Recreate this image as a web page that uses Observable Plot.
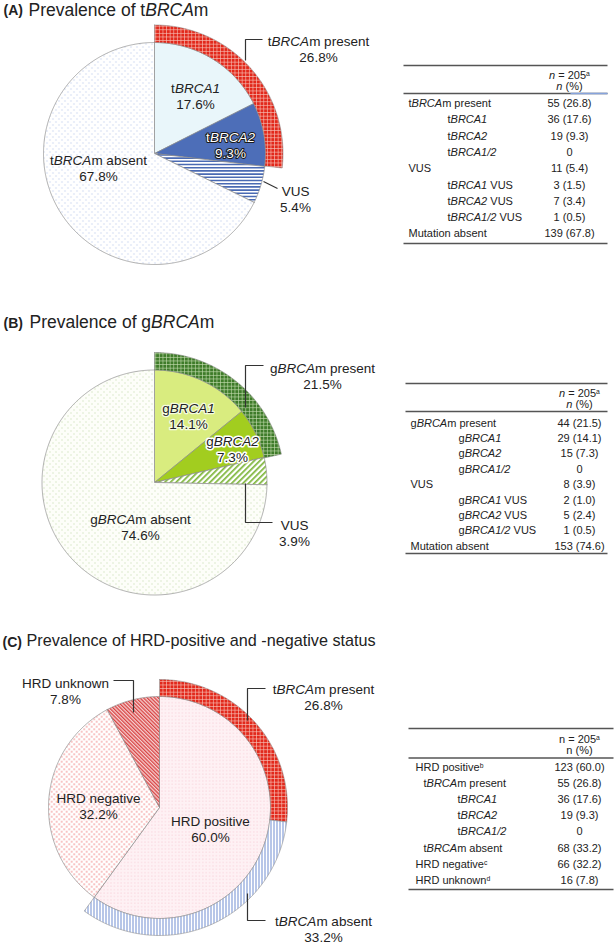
<!DOCTYPE html>
<html><head><meta charset="utf-8">
<script src="https://cdn.jsdelivr.net/npm/d3@7"></script>
<script src="https://cdn.jsdelivr.net/npm/@observablehq/plot@0.6"></script>
<style>html,body{margin:0;padding:0;background:#fff;overflow:hidden}</style>
</head><body><div id="chart"></div>
<script>
// ================= DATA =================
// Panel A – tBRCAm
const aLetter = "(A)";
const aTitle = "Prevalence of t*BRCA*m";
const aSliceLabels = ["t*BRCA1*", "t*BRCA2*", "VUS", "t*BRCA*m absent"];
const aSlicePct = [17.6, 9.3, 5.4, 67.8];
const aRingLabels = ["t*BRCA*m present"];
const aRingPct = [26.8];
const aRowLabels = ["t*BRCA*m present", "t*BRCA1*", "t*BRCA2*", "t*BRCA1/2*", "VUS", "t*BRCA1* VUS", "t*BRCA2* VUS", "t*BRCA1/2* VUS", "Mutation absent"];
const aRowN = [55, 36, 19, 0, 11, 3, 7, 1, 139];
const aRowPct = [26.8, 17.6, 9.3, null, 5.4, 1.5, 3.4, 0.5, 67.8];
const aHeader = ["*n* = 205^a", "*n* (%)"];

// Panel B – gBRCAm
const bLetter = "(B)";
const bTitle = "Prevalence of g*BRCA*m";
const bSliceLabels = ["g*BRCA1*", "g*BRCA2*", "VUS", "g*BRCA*m absent"];
const bSlicePct = [14.1, 7.3, 3.9, 74.6];
const bRingLabels = ["g*BRCA*m present"];
const bRingPct = [21.5];
const bRowLabels = ["g*BRCA*m present", "g*BRCA1*", "g*BRCA2*", "g*BRCA1/2*", "VUS", "g*BRCA1* VUS", "g*BRCA2* VUS", "g*BRCA1/2* VUS", "Mutation absent"];
const bRowN = [44, 29, 15, 0, 8, 2, 5, 1, 153];
const bRowPct = [21.5, 14.1, 7.3, null, 3.9, 1.0, 2.4, 0.5, 74.6];
const bHeader = ["*n* = 205^a", "*n* (%)"];

// Panel C – HRD status
const cLetter = "(C)";
const cTitle = "Prevalence of HRD-positive and -negative status";
const cSliceLabels = ["HRD positive", "HRD negative", "HRD unknown"];
const cSlicePct = [60.0, 32.2, 7.8];
const cRingLabels = ["t*BRCA*m present", "t*BRCA*m absent"];
const cRingPct = [26.8, 33.2];
const cRowLabels = ["HRD positive^b", "t*BRCA*m present", "t*BRCA1*", "t*BRCA2*", "t*BRCA1/2*", "t*BRCA*m absent", "HRD negative^c", "HRD unknown^d"];
const cRowN = [123, 55, 36, 19, 0, 68, 66, 16];
const cRowPct = [60.0, 26.8, 17.6, 9.3, null, 33.2, 32.2, 7.8];
const cHeader = ["n = 205^a", "n (%)"];

// ================= LAYOUT / STYLE =================
const W = 616, H = 946;
const INK = "#222";
const layouts = [
  { letter: aLetter, title: aTitle, sliceLabels: aSliceLabels, slicePct: aSlicePct, ringLabels: aRingLabels, ringPct: aRingPct,
    rowLabels: aRowLabels, rowN: aRowN, rowPct: aRowPct, header: aHeader,
    cx: 154, cy: 153, r: 111, ringR: 128.5,
    titleY: 9.4, letterX: 3, titleX: 28, titleSize: 17.5,
    sliceFills: ["#e9f6fa", "#4d6eb8", "url(#blueHoriz)", "url(#blueDots)"],
    ringFills: ["url(#redGrid)"],
    inside: [
      {i: 0, dx: 41, dy: -58, fill: INK},
      {i: 1, dx: 76, dy: -9, fill: "#fff", stroke: "#1a1a1a", sw: 2},
      {i: 3, dx: -56, dy: 14, fill: INK}
    ],
    outside: [
      {ring: true, i: 0, dx: 164, dy: -105, leader: [[91, -93], [91, -114], [108, -114]]},
      {ring: false, i: 2, dx: 141, dy: 45, leader: [[109, 28], [123, 35]]}
    ],
    table: {x0: 403, x1: 607, labelX: [408, 447], indent: [0, 1, 1, 1, 0, 1, 1, 1, 0], valX: 569,
            yTop: 65, yH: [75, 86], yHL: 93, y0: 103, step: 16.3, yBot: 243, accent: 570}
  },
  { letter: bLetter, title: bTitle, sliceLabels: bSliceLabels, slicePct: bSlicePct, ringLabels: bRingLabels, ringPct: bRingPct,
    rowLabels: bRowLabels, rowN: bRowN, rowPct: bRowPct, header: bHeader,
    cx: 154, cy: 482, r: 112.5, ringR: 130,
    titleY: 321.7, letterX: 3, titleX: 29, titleSize: 17.5,
    sliceFills: ["#d9ec7f", "#a2cd1f", "url(#greenDiag)", "url(#greenDots)"],
    ringFills: ["url(#greenGrid)"],
    inside: [
      {i: 0, dx: 34, dy: -67, fill: INK, stroke: "#f4fbe0", sw: 2.5},
      {i: 1, dx: 78, dy: -34, fill: INK, stroke: "#fff", sw: 3},
      {i: 3, dx: -14, dy: 44, fill: INK}
    ],
    outside: [
      {ring: true, i: 0, dx: 168, dy: -107, leader: [[91, -75], [91, -117], [109, -117]]},
      {ring: false, i: 2, dx: 140, dy: 50, leader: [[91, 1], [91, 40], [118, 40]]}
    ],
    table: {x0: 405, x1: 607, labelX: [410, 458], indent: [0, 1, 1, 1, 0, 1, 1, 1, 0], valX: 579,
            yTop: 383, yH: [393, 404], yHL: 411, y0: 422.5, step: 15.4, yBot: 553}
  },
  { letter: cLetter, title: cTitle, sliceLabels: cSliceLabels, slicePct: cSlicePct, ringLabels: cRingLabels, ringPct: cRingPct,
    rowLabels: cRowLabels, rowN: cRowN, rowPct: cRowPct, header: cHeader,
    cx: 159, cy: 807, r: 111, ringR: 128,
    titleY: 640.6, letterX: 2, titleX: 26, titleSize: 16.2,
    sliceFills: ["url(#pinkDots)", "url(#redDots)", "url(#redDiag)"],
    ringFills: ["url(#redGrid)", "url(#blueVert)"],
    inside: [
      {i: 0, dx: 51, dy: 21, fill: INK},
      {i: 1, dx: -61, dy: -2, fill: INK}
    ],
    outside: [
      {ring: false, i: 2, dx: -94, dy: -117, leader: [[-46, -127], [-26, -127], [-26, -95]]},
      {ring: true, i: 0, dx: 164, dy: -111, leader: [[106, -119], [88, -119], [88, -87]]},
      {ring: true, i: 1, dx: 164, dy: 121, leader: [[88, 86], [88, 113], [106, 113]]}
    ],
    table: {x0: 408, x1: 613, labelX: [415, 423, 457], indent: [0, 1, 2, 2, 2, 1, 0, 0], valX: 579,
            yTop: 728, yH: [739, 750], yHL: 757.5, y0: 767, step: 16.1, yBot: 889}
  }
];

// ================= HELPERS =================
const NS = "http://www.w3.org/2000/svg";
const cell = (n, p) => p == null ? String(n) : `${n} (${p.toFixed(1)})`;
const pctText = v => v.toFixed(1) + "%";

function arcPts(cx, cy, r0, r1, a0, a1) {
  const n = Math.max(2, Math.ceil((a1 - a0) / (Math.PI / 360)));
  const pts = [];
  for (let k = 0; k <= n; k++) {
    const a = a0 + (a1 - a0) * k / n;
    pts.push({x: cx + r1 * Math.sin(a), y: cy - r1 * Math.cos(a)});
  }
  if (r0 === 0) pts.push({x: cx, y: cy});
  else for (let k = n; k >= 0; k--) {
    const a = a0 + (a1 - a0) * k / n;
    pts.push({x: cx + r0 * Math.sin(a), y: cy - r0 * Math.cos(a)});
  }
  pts.push(pts[0]);
  return pts;
}

function defsMark() {
  const d = document.createElementNS(NS, "defs");
  d.innerHTML = `
  <pattern id="redGrid" width="3.6" height="3.6" patternUnits="userSpaceOnUse">
    <rect width="3.6" height="3.6" fill="#e2281b"/>
    <path d="M0 0.35H3.6M0.35 0V3.6" stroke="#f7c2b8" stroke-width="0.7"/>
  </pattern>
  <pattern id="greenGrid" width="3.6" height="3.6" patternUnits="userSpaceOnUse">
    <rect width="3.6" height="3.6" fill="#3e7b29"/>
    <path d="M0 0.35H3.6M0.35 0V3.6" stroke="#c2dcae" stroke-width="0.7"/>
  </pattern>
  <pattern id="blueHoriz" width="4" height="3.2" patternUnits="userSpaceOnUse">
    <rect width="4" height="3.2" fill="#fff"/>
    <rect width="4" height="1.6" fill="#4a6ab3"/>
  </pattern>
  <pattern id="blueDots" width="6" height="6" patternUnits="userSpaceOnUse">
    <rect width="6" height="6" fill="#fff"/>
    <circle cx="1.5" cy="1.5" r="0.6" fill="#a3b8e4"/>
    <circle cx="4.5" cy="4.5" r="0.6" fill="#a3b8e4"/>
  </pattern>
  <pattern id="greenDiag" width="4" height="4" patternUnits="userSpaceOnUse" patternTransform="rotate(45)">
    <rect width="4" height="4" fill="#fff"/>
    <rect width="1.7" height="4" fill="#7db63a"/>
  </pattern>
  <pattern id="greenDots" width="6" height="6" patternUnits="userSpaceOnUse">
    <rect width="6" height="6" fill="#fdfef9"/>
    <circle cx="1.5" cy="1.5" r="0.55" fill="#b4d296"/>
    <circle cx="4.5" cy="4.5" r="0.55" fill="#b4d296"/>
  </pattern>
  <pattern id="pinkDots" width="3.4" height="3.4" patternUnits="userSpaceOnUse">
    <rect width="3.4" height="3.4" fill="#fef1f4"/>
    <circle cx="1.7" cy="1.7" r="0.5" fill="#f4b2c1"/>
  </pattern>
  <pattern id="redDots" width="5" height="5" patternUnits="userSpaceOnUse">
    <rect width="5" height="5" fill="#fff"/>
    <circle cx="1.2" cy="1.2" r="0.75" fill="#ef6b6b"/>
    <circle cx="3.7" cy="3.7" r="0.75" fill="#ef6b6b"/>
  </pattern>
  <pattern id="redDiag" width="2.6" height="2.6" patternUnits="userSpaceOnUse" patternTransform="rotate(-45)">
    <rect width="2.6" height="2.6" fill="#f6d0d0"/>
    <rect width="1.3" height="2.6" fill="#d84444"/>
  </pattern>
  <pattern id="blueVert" width="3" height="3" patternUnits="userSpaceOnUse">
    <rect width="3" height="3" fill="#fff"/>
    <rect width="1" height="3" fill="#6f8dd0"/>
  </pattern>`;
  return d;
}

// rich text: *italic*, ^superscript
function richify(root) {
  const walker = document.createTreeWalker(root, NodeFilter.SHOW_TEXT);
  const nodes = [];
  while (walker.nextNode()) nodes.push(walker.currentNode);
  for (const node of nodes) {
    const s = node.data;
    if (!/[*^]/.test(s)) continue;
    const parts = s.split(/(\*[^*]+\*|\^\w+)/g).filter(p => p !== "");
    const frag = document.createDocumentFragment();
    for (const p of parts) {
      const t = document.createElementNS(NS, "tspan");
      if (p[0] === "*") { t.setAttribute("font-style", "italic"); t.textContent = p.slice(1, -1); }
      else if (p[0] === "^") { t.setAttribute("baseline-shift", "super"); t.setAttribute("font-size", "0.62em"); t.textContent = p.slice(1); }
      else t.textContent = p;
      frag.appendChild(t);
    }
    node.parentNode.replaceChild(frag, node);
  }
}

// ================= MARKS =================
const marks = [defsMark];

for (const L of layouts) {
  // pie slices
  const tot = d3.sum(L.slicePct);
  let acc = 0;
  L.slicePct.forEach((v, i) => {
    const a0 = acc / tot * 2 * Math.PI; acc += v; const a1 = acc / tot * 2 * Math.PI;
    marks.push(Plot.line(arcPts(L.cx, L.cy, 0, L.r, a0, a1),
      {x: "x", y: "y", fill: L.sliceFills[i], stroke: "#8d8d8d", strokeWidth: 0.7, strokeLinejoin: "miter"}));
  });
  // outer ring
  acc = 0;
  L.ringPct.forEach((v, i) => {
    const a0 = acc / 100 * 2 * Math.PI; acc += v; const a1 = acc / 100 * 2 * Math.PI;
    marks.push(Plot.line(arcPts(L.cx, L.cy, L.r, L.ringR, a0, a1),
      {x: "x", y: "y", fill: L.ringFills[i], stroke: "#8d8d8d", strokeWidth: 0.6, strokeLinejoin: "miter"}));
  });
  // inside labels
  for (const s of L.inside) {
    marks.push(Plot.text([{x: L.cx + s.dx, y: L.cy + s.dy, t: L.sliceLabels[s.i] + "\n" + pctText(L.slicePct[s.i])}],
      {x: "x", y: "y", text: "t", fontSize: 13.5, lineHeight: 1.2, fill: s.fill,
       stroke: s.stroke || null, strokeWidth: s.sw || 0, textAnchor: "middle"}));
  }
  // outside labels + leaders
  for (const o of L.outside) {
    const label = o.ring ? L.ringLabels[o.i] : L.sliceLabels[o.i];
    const val = o.ring ? L.ringPct[o.i] : L.slicePct[o.i];
    marks.push(Plot.text([{x: L.cx + o.dx, y: L.cy + o.dy, t: label + "\n" + pctText(val)}],
      {x: "x", y: "y", text: "t", fontSize: 13.5, lineHeight: 1.2, fill: INK, textAnchor: "middle"}));
    marks.push(Plot.line(o.leader.map(([dx, dy]) => ({x: L.cx + dx, y: L.cy + dy})),
      {x: "x", y: "y", stroke: "#333", strokeWidth: 1.2, strokeLinejoin: "miter", strokeLinecap: "butt"}));
  }
  // title
  marks.push(Plot.text([L.letter], {x: L.letterX, y: L.titleY + 1, text: d => d, fontSize: 14, fontWeight: "bold", fill: INK, textAnchor: "start"}));
  marks.push(Plot.text([L.title], {x: L.titleX, y: L.titleY, text: d => d, fontSize: L.titleSize, fill: INK, textAnchor: "start"}));

  // table
  const T = L.table;
  const lines = [
    {x1: T.x0, x2: T.x1, y: T.yTop, w: 1.6, c: "#555"},
    {x1: T.x0, x2: T.x1, y: T.yHL, w: 1.3, c: "#555"},
    {x1: T.x0, x2: T.x1, y: T.yBot, w: 1.6, c: "#555"}
  ];
  if (T.accent) lines.push({x1: T.accent, x2: T.x1, y: T.yHL, w: 1.3, c: "#86a3dc"});
  marks.push(Plot.link(lines, {x1: "x1", x2: "x2", y1: "y", y2: "y", strokeWidth: "w", stroke: "c"}));
  marks.push(Plot.text(L.header.map((h, k) => ({h, y: T.yH[k]})),
    {x: T.valX, y: "y", text: "h", fontSize: 11, fill: INK, textAnchor: "middle"}));
  const rows = L.rowLabels.map((lab, k) => ({lab, v: cell(L.rowN[k], L.rowPct[k]),
    x: T.labelX[T.indent[k]], y: T.y0 + k * T.step}));
  marks.push(Plot.text(rows, {x: "x", y: "y", text: "lab", fontSize: 11, fill: INK, textAnchor: "start"}));
  marks.push(Plot.text(rows, {x: T.valX, y: "y", text: "v", fontSize: 11, fill: INK, textAnchor: "middle"}));
}

const chart = Plot.plot({
  width: W, height: H,
  marginTop: 0, marginRight: 0, marginBottom: 0, marginLeft: 0,
  x: {domain: [0, W], range: [0, W], axis: null},
  y: {domain: [0, H], range: [0, H], axis: null},
  style: {fontFamily: "'Liberation Sans', Arial, Helvetica, sans-serif", background: "#fff", overflow: "visible"},
  marks
});
richify(chart);
document.getElementById("chart").appendChild(chart);
</script>
</body></html>
